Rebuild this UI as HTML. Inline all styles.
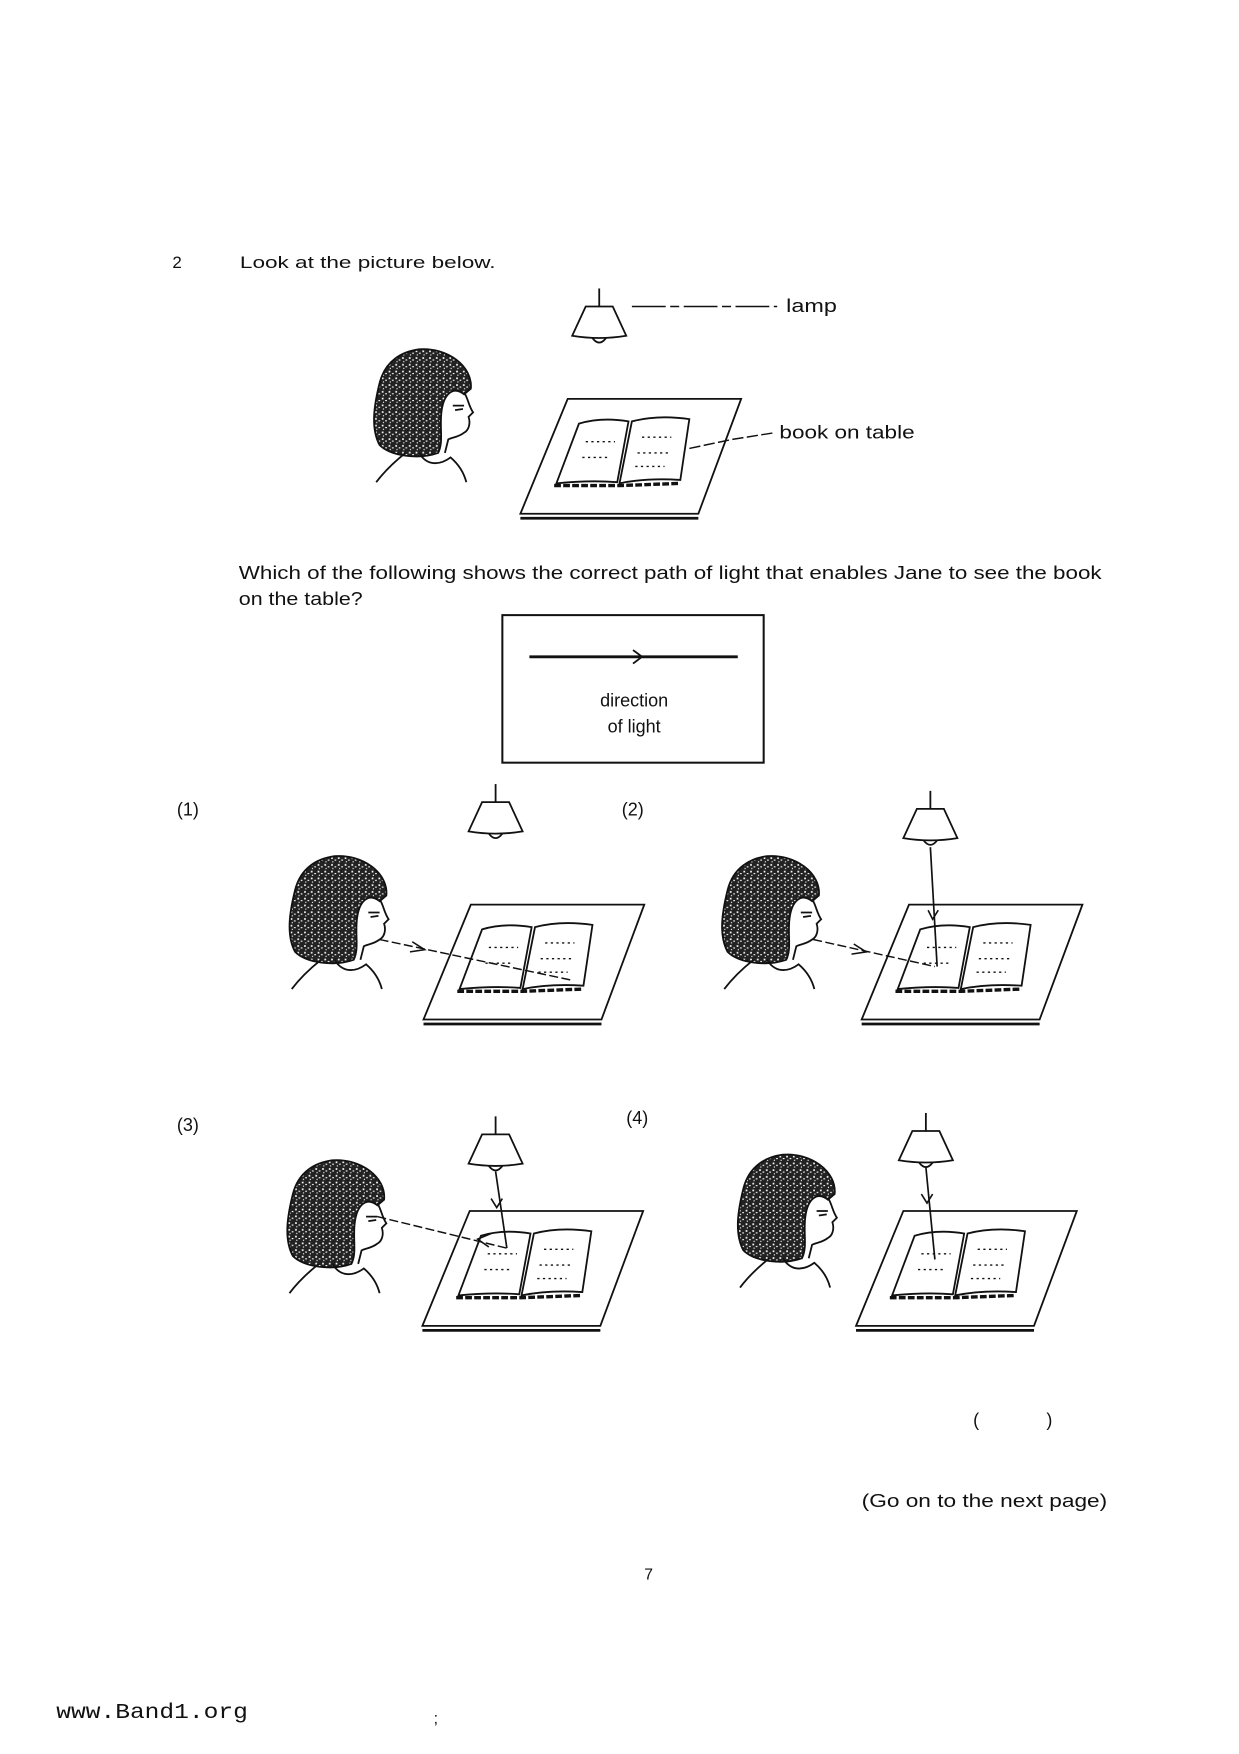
<!DOCTYPE html>
<html><head><meta charset="utf-8"><style>
html,body{margin:0;padding:0;background:#fff;width:1239px;height:1754px;overflow:hidden}
svg{display:block}
text{font-family:"Liberation Sans",sans-serif;fill:#111}
</style></head><body>
<svg width="1239" height="1754" viewBox="0 0 1100 1557" xmlns="http://www.w3.org/2000/svg">
<defs>
<pattern id="sp" width="6" height="6" patternUnits="userSpaceOnUse">
<rect width="6" height="6" fill="#222"/><rect x="1" y="1" width="1.5" height="1.5" fill="#fff"/><rect x="4" y="3" width="1.5" height="1" fill="#fff"/><rect x="2" y="4.5" width="1" height="1" fill="#fff"/>
</pattern>
<g id="girl" fill="none" stroke="#111" stroke-width="1.6">
<path d="M40,0 C65,-2 88,15 86,35 L80,40 C70,32 62,40 60,55 C58,70 62,82 57,92 C40,98 15,95 5,85 C-3,70 0,50 5,30 C10,10 25,2 40,0 Z" fill="url(#sp)"/>
<path d="M80,38 C84,45 84,50 88,56 L84,60 C86,66 84,72 80,74 C75,78 70,78 66,80 L63,92"/>
<path d="M70,50 L80,50 M72,54 L79,53"/>
<path d="M28,92 C18,100 8,110 2,118 M40,92 C48,105 60,102 68,96 C75,102 80,110 82,118"/>
</g>
<g id="lamp" fill="none" stroke="#111" stroke-width="1.6">
<path d="M0,-4 L0,12"/>
<path d="M-12,12 L12,12 L24,38 Q0,42 -24,38 Z" fill="#fff"/>
<path d="M-6,40 Q0,48 6,40"/>
</g>
<g id="table" fill="none" stroke="#111" stroke-width="1.6">
<path d="M42,0 L196,0 L158,102 L0,102 Z" fill="#fff"/>
<path d="M0,106 L158,106" stroke-width="2.5"/>
<path d="M52,22 Q72,16 96,20 L86,74 Q62,72 32,75 Z"/>
<path d="M99,20 Q122,14 150,18 L142,72 Q112,70 88,75 Z"/>
<path d="M30,77 L88,77 L142,75" stroke-width="3" stroke-dasharray="6 2"/>
<path d="M58,38 L84,38 M55,52 L80,52 M108,34 L134,34 M104,48 L132,48 M102,60 L128,60" stroke-dasharray="2 3" stroke-width="1.2"/>
</g>
</defs>

<text x="153" y="238" font-size="15">2</text>
<text x="213" y="238" font-size="15" textLength="227" lengthAdjust="spacingAndGlyphs">Look at the picture below.</text>

<use href="#lamp" x="532" y="260"/>
<line x1="561" y1="272" x2="690" y2="272" stroke="#111" stroke-width="1.3" stroke-dasharray="30 4 8 4"/>
<text x="698" y="277" font-size="16" textLength="45" lengthAdjust="spacingAndGlyphs">lamp</text>
<use href="#girl" x="332" y="310"/>
<use href="#table" x="462" y="354"/>
<path d="M612,398 L650,390 L688,384" fill="none" stroke="#111" stroke-width="1.3" stroke-dasharray="10 3"/>
<text x="692" y="389" font-size="16" textLength="120" lengthAdjust="spacingAndGlyphs">book on table</text>

<text x="212" y="514" font-size="16" textLength="766" lengthAdjust="spacingAndGlyphs">Which of the following shows the correct path of light that enables Jane to see the book</text>
<text x="212" y="537" font-size="16" textLength="110" lengthAdjust="spacingAndGlyphs">on the table?</text>

<rect x="446" y="546" width="232" height="131" fill="none" stroke="#111" stroke-width="1.8"/>
<line x1="470" y1="583" x2="655" y2="583" stroke="#111" stroke-width="2.5"/>
<path d="M562,577 L570,583 L562,589" fill="none" stroke="#111" stroke-width="1.6"/>
<text x="563" y="627" font-size="16" text-anchor="middle">direction</text>
<text x="563" y="650" font-size="16" text-anchor="middle">of light</text>

<!-- (1) -->
<text x="157" y="724" font-size="16">(1)</text>
<use href="#lamp" x="440" y="700"/>
<use href="#girl" x="257" y="760"/>
<use href="#table" x="376" y="803"/>
<line x1="337" y1="834" x2="507" y2="870" stroke="#111" stroke-width="1.3" stroke-dasharray="8 3"/>
<path d="M366,836 L377,843 L364,845" fill="none" stroke="#111" stroke-width="1.4"/>

<!-- (2) -->
<text x="552" y="724" font-size="16">(2)</text>
<use href="#lamp" x="826" y="706"/>
<use href="#girl" x="641" y="760"/>
<use href="#table" x="765" y="803"/>
<line x1="826" y1="752" x2="832" y2="858" stroke="#111" stroke-width="1.5"/>
<path d="M824,808 L828,816 L833,808" fill="none" stroke="#111" stroke-width="1.4"/>
<line x1="722" y1="834" x2="830" y2="858" stroke="#111" stroke-width="1.3" stroke-dasharray="8 3"/>
<path d="M758,838 L769,845 L756,847" fill="none" stroke="#111" stroke-width="1.4"/>

<!-- (3) -->
<text x="157" y="1004" font-size="16">(3)</text>
<use href="#lamp" x="440" y="995"/>
<use href="#girl" x="255" y="1030"/>
<use href="#table" x="375" y="1075"/>
<line x1="440" y1="1040" x2="450" y2="1108" stroke="#111" stroke-width="1.5"/>
<path d="M436,1064 L441,1072 L446,1064" fill="none" stroke="#111" stroke-width="1.4"/>
<line x1="335" y1="1080" x2="450" y2="1108" stroke="#111" stroke-width="1.3" stroke-dasharray="8 3"/>
<path d="M436,1095 L424,1100 L434,1107" fill="none" stroke="#111" stroke-width="1.4"/>

<!-- (4) -->
<text x="556" y="998" font-size="16">(4)</text>
<use href="#lamp" x="822" y="992"/>
<use href="#girl" x="655" y="1025"/>
<use href="#table" x="760" y="1075"/>
<line x1="822" y1="1036" x2="830" y2="1118" stroke="#111" stroke-width="1.5"/>
<path d="M818,1060 L823,1068 L828,1060" fill="none" stroke="#111" stroke-width="1.4"/>

<text x="864" y="1266" font-size="16">(</text>
<text x="929" y="1266" font-size="16">)</text>
<text x="765" y="1338" font-size="16" textLength="218" lengthAdjust="spacingAndGlyphs">(Go on to the next page)</text>
<text x="572" y="1402" font-size="14">7</text>
<text x="50" y="1525" font-size="19" textLength="170" lengthAdjust="spacingAndGlyphs" style="font-family:'Liberation Mono',monospace">www.Band1.org</text>
<text x="385" y="1530" font-size="14">;</text>
</svg>
</body></html>
